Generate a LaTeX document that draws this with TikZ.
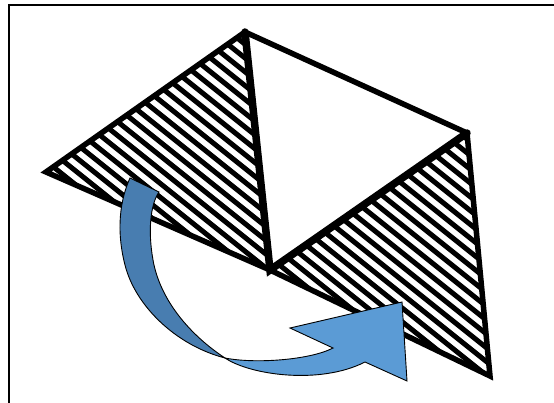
\documentclass[tikz,border=0pt]{standalone}
\usetikzlibrary{positioning}
\definecolor{ribbondark}{RGB}{72,125,176}
\definecolor{ribbonlight}{RGB}{91,155,213}

\begin{document}
\begin{tikzpicture}[x=1pt, y=-1pt,
  frame/.style={draw=black, line width=2pt},
  rim/.style={draw=black, line width=5.5pt, line join=miter},
  fold/.style={draw=black, line width=7.5pt, line cap=round},
  hatch/.style={draw=black, line width=5pt},
  ribbon/.style={draw=black, line width=0.9pt, line join=miter}
]
  \useasboundingbox (0,0) rectangle (554,402);
  \clip (0,0) rectangle (554,402);
  \draw[frame] (8.5,5) rectangle (590,440);

  % corners of the opened envelope
  \coordinate (top)   at (245,32);
  \coordinate (left)  at (46,172);
  \coordinate (mid)   at (270,270);
  \coordinate (right) at (467,133);
  \coordinate (bot)   at (490,376);

  % striped flaps
  \begin{scope}
    \clip (top) -- (left) -- (mid) -- cycle
          (right) -- (mid) -- (bot) -- cycle;
    \foreach \k in {-36,...,33}
      \draw[hatch] (0,\k*13.8) -- (600,\k*13.8+480);
  \end{scope}

  \draw[rim] (left) -- (top) -- (right) -- (bot) -- (mid) -- cycle;
  \draw[fold] (top) -- (mid) -- (right);

  % curved arrow
  \coordinate (tailout) at (130,178);
  \coordinate (tailin)  at (159,192);
  \coordinate (twist)   at (225,358);
  \coordinate (neckout) at (365,362);
  \coordinate (neckin)  at (333,348);
  \coordinate (barbout) at (407,381);
  \coordinate (tip)     at (402,302);
  \coordinate (barbin)  at (290,328);

  \filldraw[ribbon, fill=ribbondark] (tailout)
    .. controls (120,200) and (116,230) .. (125,265)
    .. controls (135,305) and (175,345) .. (twist)
    .. controls (190,335) and (160,300) .. (153,260)
    .. controls (148,232) and (150,205) .. (tailin) -- cycle;
  \filldraw[ribbon, fill=ribbonlight] (twist)
    .. controls (250,375) and (320,385) .. (neckout)
    -- (barbout) -- (tip) -- (barbin) -- (neckin)
    .. controls (310,360) and (255,364) .. (twist) -- cycle;
\end{tikzpicture}
\end{document}
